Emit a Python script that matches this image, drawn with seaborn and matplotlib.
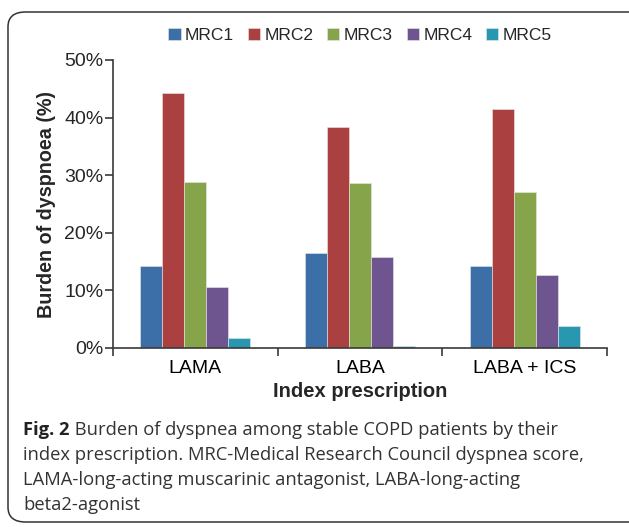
import pandas as pd
import seaborn as sns
import matplotlib.pyplot as plt
from matplotlib.patches import FancyBboxPatch
from matplotlib.ticker import FixedLocator, PercentFormatter

# Values (% of patients)
prescriptions = ['LAMA', 'LABA', 'LABA + ICS']
mrc_grades = ['MRC1', 'MRC2', 'MRC3', 'MRC4', 'MRC5']
mrc1 = [14.2, 16.5, 14.2]
mrc2 = [44.2, 38.3, 41.5]
mrc3 = [28.8, 28.6, 27.1]
mrc4 = [10.6, 15.8, 12.7]
mrc5 = [1.7, 0.4, 3.9]
colors = ['#3C6EA8', '#AA4140', '#86A44A', '#6E5590', '#2A97B0']

rows = []
for grade, vals in zip(mrc_grades, [mrc1, mrc2, mrc3, mrc4, mrc5]):
    for p, v in zip(prescriptions, vals):
        rows.append({'prescription': p, 'grade': grade, 'value': v})
df = pd.DataFrame(rows)

sns.set_style('white')
plt.rcParams['font.family'] = ['Liberation Sans', 'DejaVu Sans']

fig = plt.figure(figsize=(6.29, 5.27), dpi=100)
ax = fig.add_axes([113 / 629, 1 - 348 / 527, 494 / 629, 288 / 527])

sns.barplot(data=df, x='prescription', y='value', hue='grade', order=prescriptions,
            hue_order=mrc_grades, palette=colors, width=0.667, saturation=1,
            edgecolor='#e8e8e8', linewidth=0.4, ax=ax)

axis_col = '#3a3a3a'
ax.set_ylim(0, 50)
ax.set_xlim(-0.5, 2.5)
ax.yaxis.set_major_formatter(PercentFormatter(decimals=0))
ax.set_yticks(range(0, 51, 10))
ax.xaxis.set_minor_locator(FixedLocator([-0.5, 0.5, 1.5, 2.5]))
ax.tick_params(axis='x', which='major', bottom=False, labelsize=14, pad=5, colors='black')
ax.tick_params(axis='x', which='minor', bottom=True, length=6, width=1.2,
               color=axis_col, direction='out')
ax.tick_params(axis='y', left=True, length=6, width=1.2, color=axis_col,
               direction='out', labelsize=14, pad=1)
for s in ['top', 'right']:
    ax.spines[s].set_visible(False)
for s in ['left', 'bottom']:
    ax.spines[s].set_color(axis_col)
    ax.spines[s].set_linewidth(1.2)

ax.set_xlabel('Index prescription', fontsize=14.5, fontweight='bold', labelpad=4)
ax.set_ylabel('Burden of dyspnoea (%)', fontsize=14.2, fontweight='bold', labelpad=6)

ax.legend(loc='lower center', bbox_to_anchor=(0.5, 1.035), ncol=5, frameon=False,
          fontsize=12.5, handlelength=0.7, handleheight=0.7, handletextpad=0.25,
          columnspacing=0.8, borderaxespad=0)

# Rounded frame around figure and caption
frame = FancyBboxPatch((8 / 629, 5 / 527), 640 / 629, 510 / 527,
                       boxstyle='round,pad=0,rounding_size=0.028',
                       transform=fig.transFigure, fill=False,
                       edgecolor='#333333', linewidth=1.1, clip_on=False)
fig.patches.append(frame)

cap_font = ['Open Sans', 'DejaVu Sans']
cap_size = 13.2
y0 = 1 - 430 / 527
dy = 25 / 527
t = fig.text(23 / 629, y0, 'Fig. 2', fontsize=cap_size, fontweight='bold',
             family=cap_font, va='center', color='#222222')
ax.annotate(' Burden of dyspnea among stable COPD patients by their',
            xy=(1, 0.5), xycoords=t, va='center', fontsize=cap_size,
            family=cap_font, color='#333333')
lines = ['index prescription. MRC-Medical Research Council dyspnea score,',
         'LAMA-long-acting muscarinic antagonist, LABA-long-acting',
         'beta2-agonist']
for i, line in enumerate(lines, start=1):
    fig.text(23 / 629, y0 - i * dy, line, fontsize=cap_size, family=cap_font,
             va='center', color='#333333')

fig.savefig('out.png', dpi=100)
